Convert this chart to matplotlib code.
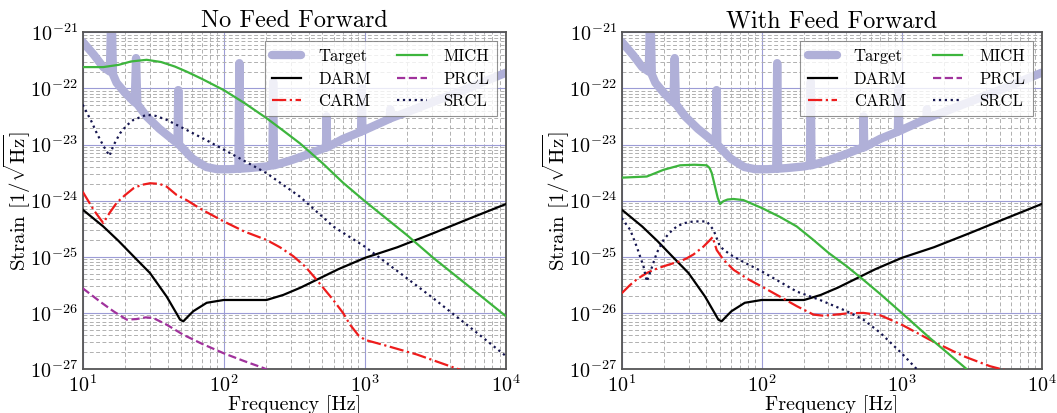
import matplotlib
matplotlib.use('Agg')
import matplotlib.pyplot as plt
import numpy as np

plt.rcParams['font.family'] = ['cmr10', 'DejaVu Serif']
plt.rcParams['mathtext.fontset'] = 'cm'
plt.rcParams['axes.unicode_minus'] = False

# target sensitivity (with resonance spikes), log10 strain
target_f = [10, 12, 14, 15.6, 16.0, 16.4, 17.4, 20, 23.4, 23.9, 24.4, 28.4, 35, 47,
            47.6, 48.2, 60, 75, 90, 110, 127, 129, 131, 150, 200, 221, 224, 227,
            250, 300, 400, 530, 535, 540, 700, 940, 950, 960, 1000, 1500, 1514,
            1528, 2000, 5000, 10000]
target_h = [-21.17, -21.40, -21.62, -21.70, -20.5, -21.75, -21.90, -22.08, -22.25,
            -21.46, -22.28, -22.50, -22.72, -22.98, -22.03, -23.00, -23.25, -23.40,
            -23.44, -23.44, -23.43, -21.55, -23.43, -23.42, -23.39, -23.37, -21.88,
            -23.37, -23.34, -23.28, -23.17, -23.05, -22.50, -23.05, -22.90, -22.77,
            -22.0, -22.76, -22.74, -22.54, -22.37, -22.53, -22.42, -22.03, -21.72]

# DARM (same in both panels)
darm_f = [10, 14, 18, 22.9, 30, 39.4, 46, 49, 51.7, 55, 60.8, 75.7, 100, 150, 201,
          264, 350, 455, 650, 1000, 1700, 3055, 5500, 10000]
darm_h = [-24.16, -24.46, -24.72, -24.99, -25.29, -25.71, -26.0, -26.12, -26.15,
          -26.08, -25.97, -25.82, -25.77, -25.77, -25.77, -25.68, -25.55, -25.41,
          -25.22, -25.02, -24.83, -24.58, -24.32, -24.06]

# No feed forward
mich0_f = [10, 14, 18, 22, 28.4, 36, 45, 54.5, 70, 100, 140, 201, 260, 347, 500,
           700, 1000, 2000, 3055, 5000, 10000]
mich0_h = [-21.62, -21.62, -21.58, -21.52, -21.49, -21.53, -21.61, -21.70, -21.83,
           -22.03, -22.26, -22.53, -22.74, -22.98, -23.33, -23.68, -24.01, -24.62,
           -25.02, -25.45, -26.06]
carm0_f = [10, 12, 14, 15.5, 17.4, 20, 22.9, 26, 30, 35, 39.4, 46.4, 54.5, 70, 100,
           140, 201, 250, 311, 380, 455, 597, 700, 785, 900, 1000, 1352, 2327,
           4009, 10000]
carm0_h = [-23.84, -24.17, -24.40, -24.22, -24.04, -23.90, -23.78, -23.72, -23.69,
           -23.70, -23.75, -23.90, -23.99, -24.16, -24.37, -24.55, -24.70, -24.83,
           -24.99, -25.18, -25.41, -25.77, -26.0, -26.21, -26.40, -26.48, -26.57,
           -26.74, -26.95, -27.3]
prcl0_f = [10, 13.3, 16.5, 20.5, 24, 28, 31.6, 39.4, 51.7, 70, 100, 140, 190, 300]
prcl0_h = [-25.56, -25.80, -25.97, -26.12, -26.11, -26.08, -26.09, -26.21, -26.39,
           -26.55, -26.72, -26.86, -26.98, -27.2]
srcl0_f = [10, 11.5, 12.6, 14.0, 14.8, 15.5, 16.5, 18.4, 20.5, 22.9, 28.4, 33, 39.4,
           54.5, 75, 100, 201, 347, 597, 1000, 1775, 3055, 5272, 10000]
srcl0_h = [-22.29, -22.58, -22.80, -23.02, -23.12, -23.20, -23.02, -22.80, -22.66,
           -22.56, -22.47, -22.49, -22.56, -22.74, -22.92, -23.09, -23.51, -23.93,
           -24.46, -24.82, -25.29, -25.74, -26.21, -26.77]

# With feed forward
mich1_f = [10, 15.1, 19.9, 26.1, 33, 40.5, 42.5, 44, 46.4, 48.5, 50.4, 53.2, 57, 62.8,
           74, 100, 135, 178, 234, 300, 405, 532, 700, 1000, 1592, 2754, 5000]
mich1_h = [-23.59, -23.57, -23.45, -23.37, -23.36, -23.37, -23.42, -23.51, -23.75,
           -23.95, -24.06, -24.01, -23.98, -23.97, -23.99, -24.13, -24.29, -24.46,
           -24.70, -24.93, -25.17, -25.41, -25.66, -26.0, -26.45, -26.95, -27.5]
carm1_f = [10, 11.5, 13, 15.1, 17, 19.9, 23, 26.1, 29, 32.5, 38.3, 42, 44.6, 47.7,
           53.2, 62.8, 80, 100, 135, 178, 234, 276, 340, 405, 532, 700, 1000, 1592,
           2754, 4276, 10000]
carm1_h = [-25.65, -25.50, -25.39, -25.29, -25.23, -25.17, -25.12, -25.08, -25.03,
           -24.96, -24.82, -24.72, -24.65, -24.88, -25.05, -25.23, -25.40, -25.53,
           -25.71, -25.88, -26.03, -26.05, -26.03, -26.01, -26.0, -26.04, -26.21,
           -26.48, -26.77, -26.95, -27.19]
srcl1_f = [10, 11.5, 12.8, 14.3, 15.1, 15.9, 17.8, 19.9, 22, 24.7, 28, 32.5, 40.5,
           45.2, 50.4, 59.4, 75, 100, 178, 261, 405, 532, 700, 1000, 1279, 1600]
srcl1_h = [-24.31, -24.52, -24.82, -25.17, -25.44, -25.29, -24.93, -24.70, -24.57,
           -24.46, -24.40, -24.37, -24.37, -24.52, -24.82, -24.96, -25.10, -25.26,
           -25.62, -25.77, -25.97, -26.12, -26.35, -26.72, -27.0, -27.25]


def draw(ax, title, mich_f, mich_h, carm_f, carm_h, prcl_f, prcl_h, srcl_f, srcl_h):
    ax.loglog(target_f, 10.0 ** np.array(target_h), color='#b0b0d8', lw=6,
              solid_joinstyle='round', solid_capstyle='round', label='Target', zorder=2)
    ax.loglog(darm_f, 10.0 ** np.array(darm_h), color='k', lw=1.6, label='DARM', zorder=3)
    ax.loglog(carm_f, 10.0 ** np.array(carm_h), color='#ee1c1c', lw=1.6, ls='-.',
              label='CARM', zorder=3)
    ax.loglog(mich_f, 10.0 ** np.array(mich_h), color='#3db53d', lw=1.6, label='MICH', zorder=3)
    ax.loglog(prcl_f, 10.0 ** np.array(prcl_h), color='#a0329c', lw=1.6, ls='--',
              label='PRCL', zorder=3)
    ax.loglog(srcl_f, 10.0 ** np.array(srcl_h), color='#15154f', lw=1.6, ls=':',
              label='SRCL', zorder=3)

    ax.set_xlim(10, 1e4)
    ax.set_ylim(1e-27, 1e-21)
    ax.grid(True, which='major', color='#9c9cd6', lw=0.8, ls='-')
    ax.grid(True, which='minor', color='#b0b0b0', lw=0.7, ls=(0, (4, 2.5)))
    ax.set_axisbelow(True)
    ax.tick_params(which='both', length=0, labelsize=14.5)
    for s in ax.spines.values():
        s.set_color('#555555')
        s.set_linewidth(1.3)
    ax.set_title(title, fontsize=17.5, pad=3)
    ax.set_xlabel('Frequency [Hz]', fontsize=14.5, labelpad=0)
    ax.set_ylabel(r'Strain [$1/\sqrt{\mathrm{Hz}}$]', fontsize=15)
    ax.yaxis.set_label_coords(-0.118, 0.5)
    leg = ax.legend(ncol=2, loc='upper right',
                    fontsize=12, framealpha=0.8, edgecolor='#777777', fancybox=False,
                    handlelength=1.75, columnspacing=1.6, borderaxespad=0.55,
                    labelspacing=0.42, handletextpad=1.0, borderpad=0.45)
    leg.get_frame().set_linewidth(0.8)


fig = plt.figure(figsize=(10.57, 4.13), dpi=100)
ax1 = fig.add_axes([0.0782, 0.1065, 0.4005, 0.8153])
ax2 = fig.add_axes([0.5882, 0.1065, 0.3973, 0.8153])

draw(ax1, 'No Feed Forward', mich0_f, mich0_h, carm0_f, carm0_h, prcl0_f, prcl0_h,
     srcl0_f, srcl0_h)
draw(ax2, 'With Feed Forward', mich1_f, mich1_h, carm1_f, carm1_h, [], [],
     srcl1_f, srcl1_h)

fig.savefig('out.png', dpi=100)
